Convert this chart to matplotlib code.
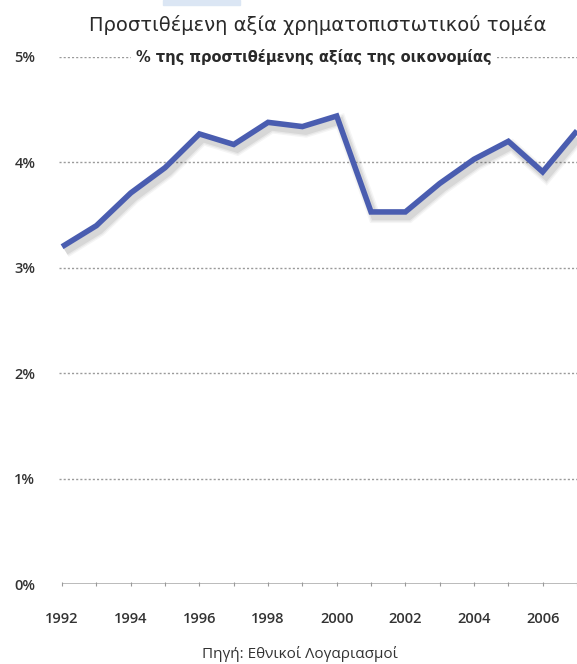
import matplotlib
matplotlib.use("Agg")
import matplotlib.pyplot as plt
import matplotlib.patheffects as pe
from matplotlib.patches import Rectangle

years = [1992, 1993, 1994, 1995, 1996, 1997, 1998, 1999, 2000,
         2001, 2002, 2003, 2004, 2005, 2006, 2007]
share = [3.20, 3.40, 3.71, 3.95, 4.27, 4.17, 4.38, 4.34, 4.44,
         3.53, 3.53, 3.80, 4.03, 4.20, 3.91, 4.30]
ytick_vals = [0, 1, 2, 3, 4, 5]
ytick_labels = ["0%", "1%", "2%", "3%", "4%", "5%"]
xtick_vals = [1992, 1994, 1996, 1998, 2000, 2002, 2004, 2006]
title = "Προστιθέμενη αξία χρηματοπιστωτικού τομέα"
subtitle = "% της προστιθέμενης αξίας της οικονομίας"
source = "Πηγή: Εθνικοί Λογαριασμοί"

plt.rcParams['font.family'] = ['Open Sans', 'DejaVu Sans']

W, H = 577, 664
fig = plt.figure(figsize=(W / 100, H / 100), dpi=100)

# small light-blue tab at the top
fig.patches.append(Rectangle((163 / W, 1 - 5 / H), 77 / W, 5 / H,
                             transform=fig.transFigure, color="#dbe6f4", zorder=0))

x_left, x_right = 59, 577
y_bot, y_top = 584, 57
ax = fig.add_axes([x_left / W, 1 - y_bot / H, (x_right - x_left) / W, (y_bot - y_top) / H])
ax.set_xlim(1991.91, 2006.93)
ax.set_ylim(0, 5)

for s in ax.spines.values():
    s.set_visible(False)

# gridlines
for v in ytick_vals[1:]:
    ax.axhline(v, color="#9a9a9a", lw=1.0, ls=(0, (1.5, 1.5)), zorder=1)
ax.plot([years[0], years[-1]], [0, 0], color="#b4b4b4", lw=2.0, zorder=1,
        solid_capstyle="butt")

shadow = [pe.SimpleLineShadow(offset=(2.5, -3.5), shadow_color="#000000", alpha=a, linewidth=w)
          for w, a in [(9, 0.04), (7, 0.05), (5, 0.07)]]
ax.plot(years, share, color="#4a5db0", lw=4.0, solid_joinstyle="miter",
        solid_capstyle="butt", zorder=3, path_effects=shadow + [pe.Normal()])

ax.set_yticks(ytick_vals)
ax.set_yticklabels(ytick_labels)
ax.set_xticks(xtick_vals)
ax.set_xticklabels([str(v) for v in xtick_vals])
ax.set_xticks(years, minor=True)
ax.tick_params(axis="y", length=0, pad=17, labelsize=10.5, labelcolor="#333333")
ax.tick_params(axis="x", which="both", length=3, width=0.8, color="#999999",
               direction="inout", pad=19, labelsize=10.5, labelcolor="#333333")
for lab in ax.get_yticklabels() + ax.get_xticklabels():
    lab.set_fontweight("semibold")

fig.text(318 / W, 1 - 25 / H, title, ha="center", va="center", fontsize=14,
         color="#2a2a2a", family=["DejaVu Sans"])
fig.text(314 / W, 1 - 57 / H, subtitle, ha="center", va="center", fontsize=10.5,
         fontweight="bold", color="#2a2a2a", family=["DejaVu Sans"],
         bbox=dict(facecolor="white", edgecolor="none", pad=4))
fig.text(300 / W, 1 - 654 / H, source, ha="center", va="center", fontsize=11, color="#333333")

fig.savefig("out.png", dpi=100)
